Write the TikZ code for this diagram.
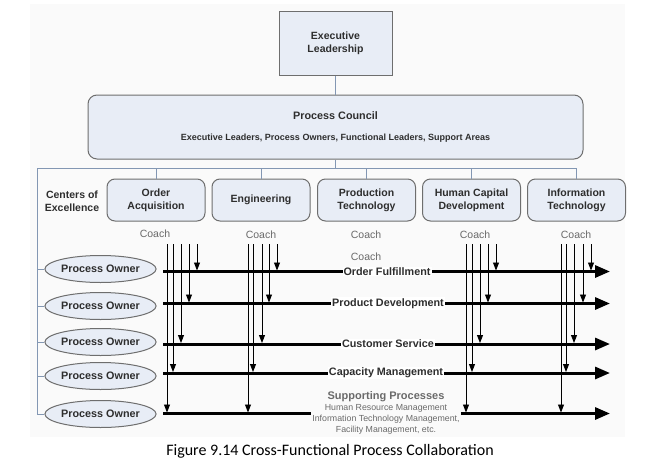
\documentclass[tikz,border=0pt]{standalone}
\usepackage{fontspec}
\setmainfont{Liberation Sans}
\newfontfamily\capfont{Carlito}
\usetikzlibrary{shapes.geometric,arrows.meta}
\definecolor{boxfill}{HTML}{E8EDF6}
\definecolor{boxline}{HTML}{6E6E6E}
\definecolor{treeline}{HTML}{8397B3}
\definecolor{txt}{HTML}{2E2E2E}
\definecolor{coachtxt}{HTML}{6A6A6A}
\definecolor{panel}{HTML}{FAFAFA}
\tikzset{
  every node/.style={text=txt},
  exbox/.style={draw=boxline,fill=boxfill,line width=1pt,minimum width=113pt,minimum height=64pt,align=center,font=\bfseries\fontsize{10.5}{13}\selectfont},
  council/.style={draw=boxline,fill=boxfill,line width=1pt,rounded corners=9pt,minimum width=495pt,minimum height=64pt},
  coe/.style={draw=boxline,fill=boxfill,line width=1pt,rounded corners=8pt,minimum width=98pt,minimum height=42pt,align=center,font=\bfseries\fontsize{10.5}{13}\selectfont},
  owner/.style={ellipse,draw=boxline,fill=boxfill,line width=1pt,minimum width=105pt,minimum height=27pt,inner sep=0pt,font=\bfseries\fontsize{10.8}{13}\selectfont},
  tree/.style={draw=treeline,line width=0.9pt},
  flow/.style={line width=3pt,black},
  flowarrow/.style={line width=3pt,black,-{Triangle[length=15pt,width=12pt]}},
  flowlabel/.style={fill=white,inner sep=1pt,font=\bfseries\fontsize{10.8}{13}\selectfont},
  coachline/.style={line width=0.9pt,black,-{Triangle[length=8pt,width=6pt]},shorten >=1pt},
  coachlabel/.style={text=coachtxt,font=\fontsize{10.5}{13}\selectfont}
}
\begin{document}
\begin{tikzpicture}[x=1pt,y=-1pt]
\useasboundingbox (0,0) rectangle (652,463);
\fill[panel] (30,4) rectangle (625,437);

% top
\node[exbox] (exec) at (335.5,43) {Executive\\Leadership};
\node[council] (council) at (335.5,127) {};
\node[font=\bfseries\fontsize{10.8}{13}\selectfont] (pc) at (335.5,116) {Process Council};
\node[font=\bfseries\fontsize{9}{11}\selectfont] (pcsub) at (335.5,138) {Executive Leaders, Process Owners, Functional Leaders, Support Areas};
\draw[tree] (exec.south) -- (council.north);

% centers of excellence
\coordinate (bus) at (335.5,168);
\coordinate (busL) at (37,168);
\node[coe] (oa) at (156,200) {Order\\Acquisition};
\node[coe] (eng) at (261,200) {Engineering};
\node[coe] (pt) at (366.5,200) {Production\\Technology};
\node[coe] (hc) at (471.5,200) {Human Capital\\Development};
\node[coe] (it) at (576.5,200) {Information\\Technology};
\node[align=center,font=\bfseries\fontsize{10.5}{13}\selectfont] (cx) at (72,201) {Centers of\\Excellence};
\draw[tree] (council.south) -- (bus);
\draw[tree] (busL) -- (it.north |- bus);
\foreach \b in {oa,eng,pt,hc,it}{\draw[tree] (\b.north) -- (\b.north |- bus);}

% coach labels
\node[coachlabel] (c1) at (155,234) {Coach};
\node[coachlabel] (c2) at (261,235) {Coach};
\node[coachlabel] (c3) at (366,235) {Coach};
\node[coachlabel] (c3b) at (366,257) {Coach};
\node[coachlabel] (c4) at (475,235) {Coach};
\node[coachlabel] (c5) at (576,235) {Coach};

% process owners
\node[owner] (po1) at (100.5,269) {Process Owner};
\node[owner] (po2) at (100.5,306) {Process Owner};
\node[owner] (po3) at (100.5,342) {Process Owner};
\node[owner] (po4) at (100.5,376) {Process Owner};
\node[owner] (po5) at (100.5,414) {Process Owner};
\draw[tree] (busL) -- (po5.west -| busL);
\foreach \p in {po1,po2,po3,po4,po5}{\draw[tree] (\p.west) -- (\p.west -| busL);}

% flow lines
\coordinate (fs1) at (163,271.5); \coordinate (fe1) at (610,271.5);
\coordinate (fs2) at (163,303.5); \coordinate (fe2) at (610,303.5);
\coordinate (fs3) at (163,344);   \coordinate (fe3) at (610,344);
\coordinate (fs4) at (163,373);   \coordinate (fe4) at (610,373);
\coordinate (fs5) at (163,413.5); \coordinate (fe5) at (610,413.5);

% coach lines
\foreach \x/\r in {197/1,189/2,181/3,173/4,167/5, 277/1,269/2,262/3,253/4,248/5, 496/1,488/2,480/3,472/4,466/5, 591/1,583/2,574/3,566/4,561/5}{
  \coordinate (cs-\x) at (\x,244);
  \draw[coachline] (cs-\x) -- (cs-\x |- fs\r);
}

\draw[flowarrow] (fs1) -- (fe1);
\draw[flowarrow] (fs2) -- (fe2);
\draw[flowarrow] (fs3) -- (fe3);
\draw[flowarrow] (fs4) -- (fe4);
\node[flowlabel] (l1) at (387,271.5) {Order Fulfillment};
\node[flowlabel] (l2) at (388,303.5) {Product Development};
\node[flowlabel] (l3) at (388,344) {Customer Service};
\node[flowlabel] (l4) at (386,373) {Capacity Management};

\node[align=center,inner sep=1pt,font=\fontsize{8.8}{11}\selectfont,text=coachtxt] (sp) at (386,413)
  {{\bfseries\fontsize{11}{11}\selectfont Supporting Processes}\\Human Resource Management\\Information Technology Management,\\Facility Management, etc.};
\draw[flow] (fs5) -- (sp.west |- fs5);
\draw[flowarrow] (sp.east |- fs5) -- (fe5);

% caption
\node[font=\capfont\fontsize{16}{18}\selectfont,text=black] (cap) at (330,451) {Figure 9.14 Cross-Functional Process Collaboration};
\end{tikzpicture}
\end{document}
